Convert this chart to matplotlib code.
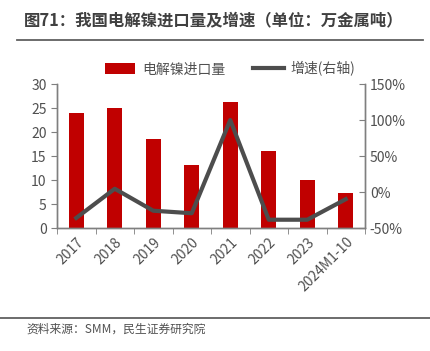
import matplotlib
matplotlib.use("Agg")
import matplotlib.pyplot as plt
from matplotlib.ticker import FuncFormatter
import numpy as np

plt.rcParams['font.family'] = ['Noto Sans CJK SC', 'DejaVu Sans']

categories = ["2017", "2018", "2019", "2020", "2021", "2022", "2023", "2024M1-10"]
imports = [24.0, 25.0, 18.6, 13.1, 26.2, 16.0, 9.9, 7.3]
growth = [-36, 4.5, -26, -29.5, 100, -38.5, -38.5, -10]

bar_color = "#C00000"
line_color = "#4D4D4D"
text_color = "#505050"
axis_color = "#7F7F7F"

fig = plt.figure(figsize=(4.30, 3.51), dpi=100)
ax = fig.add_axes([57/430, 1-228/351, (365-57)/430, (228-84)/351])
ax2 = ax.twinx()

x = np.arange(len(categories))
ax.bar(x, imports, width=0.38, color=bar_color, label="电解镍进口量", zorder=2)
ax2.plot(x, growth, color=line_color, lw=3, label="增速(右轴)", zorder=3)

ax.set_xlim(-0.5, len(categories)-0.5)
ax.set_ylim(0, 30)
ax.set_yticks(np.arange(0, 31, 5))
ax2.set_ylim(-50, 150)
ax2.set_yticks(np.arange(-50, 151, 50))
ax2.yaxis.set_major_formatter(FuncFormatter(lambda v, p: f"{int(v)}%"))

ax.set_xticks(x)
ax.set_xticklabels(categories, rotation=45, ha="right", rotation_mode="anchor")
ax.set_xticks(np.arange(-0.5, len(categories), 1), minor=True)
ax.tick_params(axis='x', which='major', length=0, labelsize=10, colors=text_color, pad=5)
ax.tick_params(axis='x', which='minor', length=4, color=axis_color, direction='out')
ax.tick_params(axis='y', length=4, color=axis_color, labelcolor=text_color, labelsize=10, direction='out')
ax2.tick_params(axis='y', length=4, color=axis_color, labelcolor=text_color, labelsize=10, direction='in')

for a in (ax, ax2):
    a.spines['top'].set_visible(False)
    for s in ('left', 'right', 'bottom'):
        a.spines[s].set_color(axis_color)
        a.spines[s].set_linewidth(1)
ax.set_zorder(ax2.get_zorder() - 1)
ax2.patch.set_visible(False)

h1, l1 = ax.get_legend_handles_labels()
h2, l2 = ax2.get_legend_handles_labels()
fig.legend(h1 + h2, l1 + l2, loc="center", bbox_to_anchor=(230/430, 1-69/351),
           ncol=2, frameon=False, fontsize=10, labelcolor=text_color,
           handlelength=2.2, handleheight=0.8, columnspacing=2.0, handletextpad=0.5)

fig.text(24/430, 1-20/351, "图71：我国电解镍进口量及增速（单位：万金属吨）",
         fontsize=11.8, fontweight='bold', color="#404040", va='center', ha='left')
fig.add_artist(plt.Line2D([17/430, 423/430], [1-40/351, 1-40/351], color="#606060", lw=1.3))
fig.add_artist(plt.Line2D([0/430, 430/430], [1-318/351, 1-318/351], color="#606060", lw=1.3))
fig.text(26/430, 1-329/351, "资料来源：SMM，民生证券研究院", fontsize=8.5, color=text_color,
         va='center', ha='left')

fig.savefig("out.png", dpi=100)
